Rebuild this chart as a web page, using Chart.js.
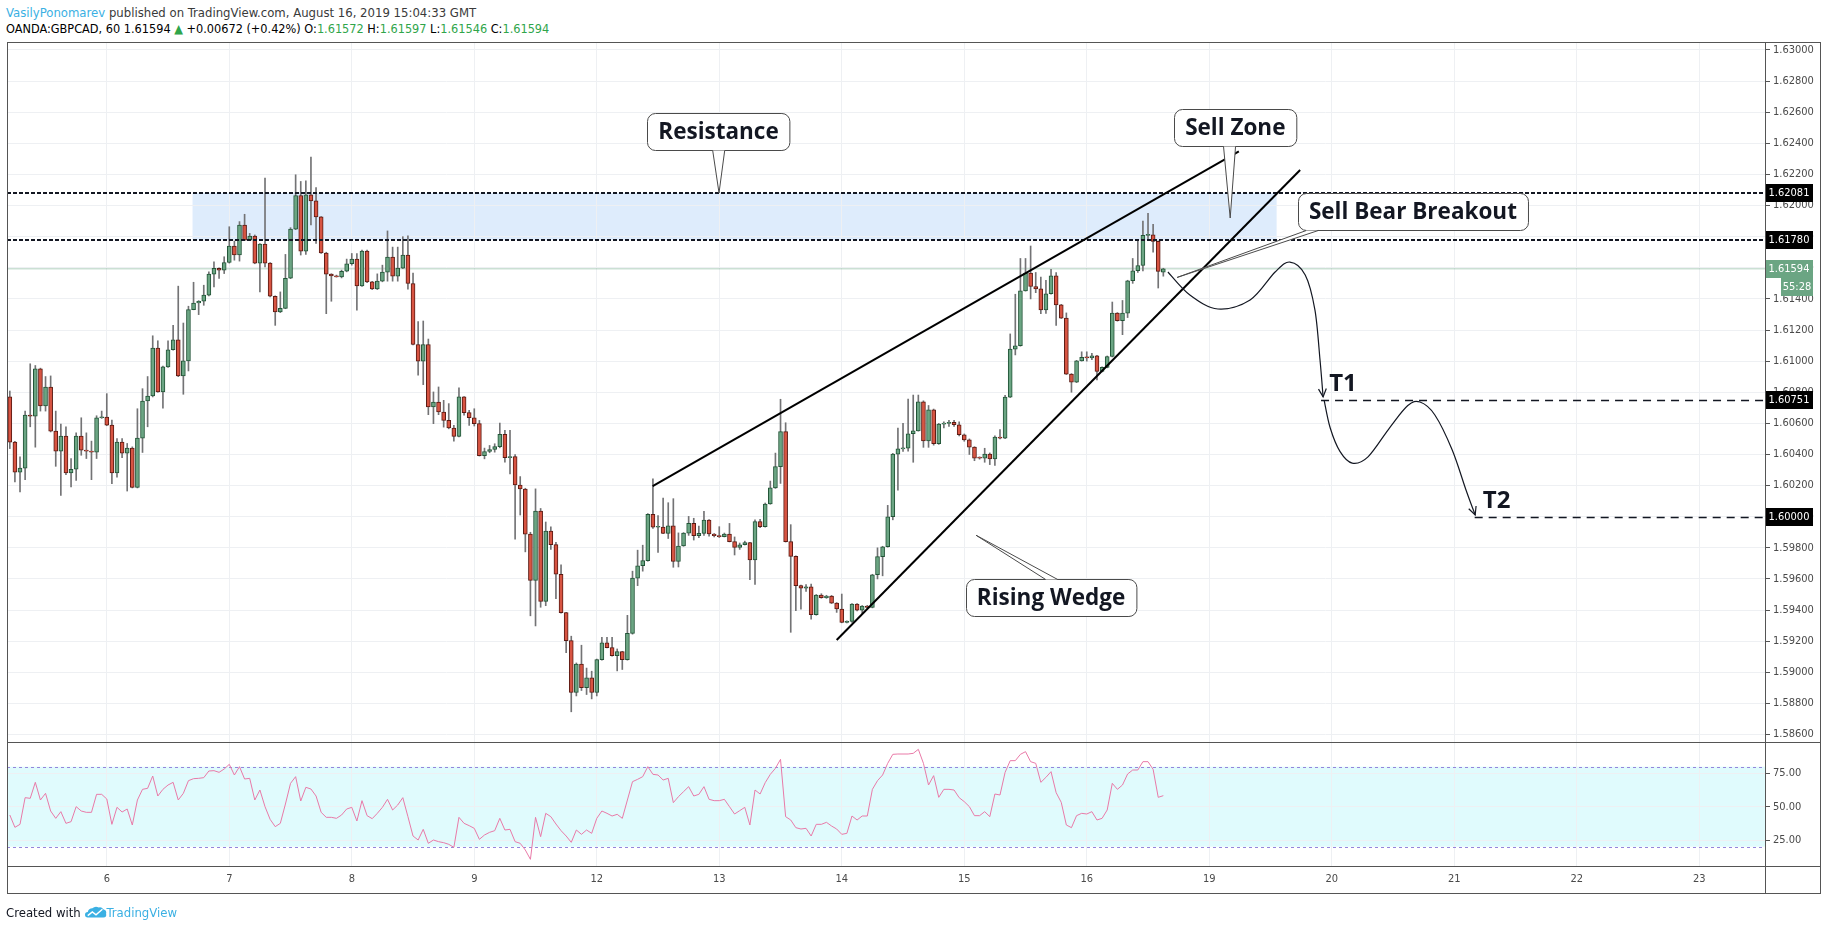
<!DOCTYPE html>
<html><head><meta charset="utf-8">
<script src="https://cdn.jsdelivr.net/npm/chart.js@4.4.1/dist/chart.umd.min.js"></script>
<style>
html,body{margin:0;padding:0;background:#fff;width:1828px;height:930px;overflow:hidden;position:relative;}
.txt{position:absolute;white-space:nowrap;font-family:'DejaVu Sans Condensed','Liberation Sans Narrow',sans-serif;font-size:13px;line-height:16px;color:#131722;}
.g{color:#2fa54a;}
.fr{position:absolute;background:#555;}
canvas{position:absolute;left:0;}
</style></head><body>
<div class="txt" style="left:6px;top:5px;color:#3a3a3a"><span style="color:#3bb0e3">VasilyPonomarev</span> published on TradingView.com, August 16, 2019 15:04:33 GMT</div>
<div class="txt" style="left:6px;top:21px;font-size:12.6px;color:#000">OANDA:GBPCAD, 60 1.61594 <span class="g">&#9650;</span> +0.00672 (+0.42%) O:<span class="g">1.61572</span> H:<span class="g">1.61597</span> L:<span class="g">1.61546</span> C:<span class="g">1.61594</span></div>
<canvas id="rsi" width="1828" height="200" style="top:730px;width:1828px;height:200px"></canvas>
<canvas id="main" width="1828" height="754" style="top:0;width:1828px;height:754px"></canvas>
<div class="fr" style="left:7px;top:42px;width:1814px;height:1px"></div>
<div class="fr" style="left:7px;top:893px;width:1814px;height:1px"></div>
<div class="fr" style="left:7px;top:42px;width:1px;height:852px"></div>
<div class="fr" style="left:1820px;top:42px;width:1px;height:852px"></div>
<div class="fr" style="left:1765px;top:42px;width:1px;height:852px"></div>
<div class="fr" style="left:7px;top:742px;width:1814px;height:1px"></div>
<div class="fr" style="left:7px;top:866px;width:1814px;height:1px"></div>
<div class="txt" style="left:6px;top:905px">Created with <svg width="22" height="14" viewBox="0 0 24 14" style="vertical-align:-2px"><path d="M3 13 Q0 13 0 10 Q0 7 3 7 Q4 3 8 3 Q11 0 15 2 Q18 1 20 4 Q24 5 23 9 Q24 13 20 13 Z" fill="#3bb0e3"/><path d="M3 11 L8 7 L12 10 L19 4" stroke="#fff" stroke-width="1.6" fill="none"/></svg><span style="color:#3bb0e3">TradingView</span></div>
<script>
// ---------- DATA ----------
const firstHour = -19; // hour index of first candle (0 = day "6" 00:00)
const opens = [1.6077,1.60479,1.60286,1.60312,1.60654,1.60647,1.6095,1.60712,1.60834,1.6055,
1.60421,1.60518,1.60281,1.60305,1.60518,1.60428,1.60421,1.60415,1.60636,1.60641,
1.60589,1.60281,1.60479,1.60408,1.60441,1.60189,1.60505,1.60744,1.60776,1.61084,
1.60802,1.60963,1.61073,1.61137,1.60905,1.61002,1.61331,1.61374,1.61385,1.61424,
1.61559,1.61596,1.61585,1.61634,1.6174,1.61682,1.61875,1.61778,1.61804,1.6163,
1.61753,1.6163,1.61417,1.61316,1.61339,1.61533,1.61849,1.62065,1.61707,1.62069,
1.6203,1.61927,1.61695,1.61559,1.61548,1.61542,1.61578,1.61626,1.61656,1.61484,
1.61707,1.6151,1.61464,1.61514,1.61572,1.61669,1.61546,1.61598,1.61682,1.61499,
1.61107,1.61,1.61107,1.60705,1.60737,1.60673,1.60619,1.6057,1.60516,1.6077,
1.60669,1.60636,1.60598,1.60393,1.60419,1.60432,1.60451,1.60529,1.6038,1.60386,
1.60204,1.60178,1.59888,1.59591,1.60036,1.59456,1.59907,1.59821,1.5963,1.59383,
1.59204,1.5887,1.59053,1.58901,1.58965,1.5887,1.59081,1.59189,1.59159,1.59107,
1.59133,1.59081,1.5925,1.59605,1.59685,1.59718,1.60015,1.59932,1.59934,1.59893,
1.59942,1.59713,1.59812,1.59895,1.59957,1.59878,1.59893,1.59979,1.59889,1.59878,
1.59872,1.59889,1.5984,1.59803,1.5982,1.59833,1.59722,1.59968,1.59936,1.60082,
1.60185,1.60322,1.60547,1.5984,1.59745,1.59557,1.5954,1.5955,1.5937,1.59497,
1.59479,1.5949,1.59445,1.59407,1.59321,1.59327,1.59439,1.594,1.59426,1.59417,
1.59627,1.59743,1.59807,1.6,1.60402,1.60436,1.60441,1.60533,1.60552,1.60739,
1.60488,1.60687,1.60469,1.60595,1.606,1.60606,1.60591,1.60527,1.60494,1.60447,
1.60381,1.60377,1.60402,1.60372,1.60512,1.60505,1.60769,1.61077,1.61099,1.61452,
1.61566,1.6148,1.61465,1.6133,1.61433,1.61549,1.61362,1.61277,1.60917,1.60865,
1.61002,1.61024,1.61021,1.61034,1.60934,1.6096,1.6103,1.61309,1.6126,1.61309,
1.61517,1.61581,1.61615,1.61808,1.61812,1.6177,1.61572];
const highs = [1.60808,1.60485,1.60385,1.60679,1.60983,1.60972,1.60955,1.60901,1.60905,1.60679,
1.60595,1.60578,1.60374,1.60539,1.60636,1.60539,1.60486,1.60649,1.60679,1.60791,
1.60621,1.60503,1.60503,1.60471,1.60449,1.60694,1.60823,1.60901,1.61163,1.61131,
1.60968,1.61131,1.6123,1.61482,1.61245,1.61353,1.61507,1.61389,1.61488,1.61574,
1.61639,1.616,1.61671,1.61864,1.61772,1.61897,1.61944,1.61821,1.61811,1.61755,
1.62176,1.61634,1.6142,1.61445,1.61686,1.61858,1.62198,1.62155,1.62159,1.62312,
1.62116,1.6193,1.617,1.61562,1.61553,1.61585,1.61656,1.61692,1.61692,1.61714,
1.61714,1.61513,1.61561,1.61617,1.61837,1.61733,1.61733,1.618,1.61806,1.61566,
1.61254,1.61258,1.61142,1.60802,1.60834,1.60748,1.60727,1.60587,1.60828,1.60773,
1.60684,1.60694,1.60619,1.60441,1.60458,1.60469,1.60602,1.60555,1.60555,1.604,
1.60258,1.60183,1.599,1.60179,1.60053,1.59966,1.59935,1.59835,1.59691,1.59385,
1.59232,1.5906,1.59174,1.59027,1.59007,1.59085,1.59224,1.59224,1.59224,1.5915,
1.59135,1.59366,1.5965,1.59785,1.59817,1.6002,1.60243,1.60007,1.6012,1.6009,
1.60116,1.59896,1.59898,1.60002,1.5999,1.5994,1.60034,1.59982,1.59892,1.59936,
1.59895,1.59957,1.5987,1.59831,1.59843,1.59836,1.5998,1.59983,1.60088,1.60229,
1.60409,1.60755,1.60604,1.59949,1.59748,1.5956,1.59564,1.59567,1.595,1.59505,
1.59495,1.59494,1.59448,1.59503,1.5933,1.59442,1.59442,1.59429,1.5943,1.5963,
1.598,1.5981,1.60073,1.60407,1.6057,1.606,1.60756,1.60782,1.60782,1.60745,
1.60715,1.60692,1.606,1.6061,1.6062,1.6062,1.6061,1.60532,1.605,1.6045,
1.60385,1.6044,1.6041,1.6052,1.6056,1.6078,1.61175,1.6143,1.6166,1.6166,
1.6174,1.6157,1.6154,1.6152,1.6159,1.6157,1.61365,1.6131,1.6092,1.61005,
1.6106,1.6106,1.6105,1.61037,1.60963,1.61033,1.6138,1.61312,1.6139,1.6152,
1.6166,1.6178,1.619,1.6195,1.6188,1.61773,1.61597];
const lows = [1.60438,1.60223,1.60159,1.60238,1.60578,1.60447,1.60679,1.60679,1.60545,1.60324,
1.60137,1.60271,1.60191,1.60234,1.60395,1.60374,1.60238,1.60374,1.60632,1.60585,
1.60213,1.60254,1.6038,1.60165,1.60185,1.60185,1.60413,1.60578,1.6077,1.608,
1.60697,1.6096,1.6107,1.609,1.60787,1.60937,1.6133,1.61299,1.61359,1.61419,
1.61477,1.61531,1.61563,1.6163,1.61649,1.61643,1.61776,1.61776,1.61626,1.61445,
1.61606,1.61413,1.6123,1.61312,1.61337,1.6153,1.61845,1.61682,1.61686,1.61875,
1.61757,1.61692,1.61305,1.61385,1.6154,1.61535,1.61574,1.61617,1.61327,1.6148,
1.61505,1.6146,1.6146,1.6151,1.61514,1.61514,1.61514,1.61595,1.61462,1.61105,
1.6091,1.60849,1.60656,1.60598,1.60656,1.60576,1.60565,1.60486,1.60513,1.60652,
1.60587,1.60583,1.6039,1.60372,1.60411,1.60415,1.60443,1.6035,1.60275,1.59856,
1.60011,1.59774,1.59363,1.59298,1.59418,1.59428,1.5979,1.59473,1.5938,1.59126,
1.58746,1.58848,1.58883,1.58857,1.58829,1.58848,1.59078,1.59156,1.59104,1.59009,
1.59018,1.59078,1.59245,1.59557,1.5965,1.59714,1.59925,1.59771,1.59891,1.5986,
1.59675,1.59677,1.5981,1.5988,1.5985,1.59866,1.5988,1.59875,1.5987,1.59866,
1.5987,1.59838,1.59754,1.5979,1.59818,1.59595,1.59564,1.5993,1.59933,1.6008,
1.60182,1.60214,1.59837,1.59257,1.59396,1.59405,1.5952,1.59342,1.59367,1.59476,
1.59475,1.59442,1.59385,1.59318,1.59317,1.59321,1.59395,1.5938,1.59415,1.59414,
1.596,1.5962,1.59804,1.5998,1.6017,1.6042,1.60422,1.6035,1.6055,1.60446,
1.60446,1.6046,1.60465,1.6057,1.6058,1.6058,1.6052,1.60485,1.604,1.6036,
1.6037,1.6035,1.60335,1.6033,1.605,1.60502,1.60766,1.6104,1.61096,1.6145,
1.614,1.6144,1.61305,1.61307,1.6143,1.6123,1.61274,1.60914,1.608,1.60862,
1.61,1.61,1.6101,1.6088,1.6093,1.60957,1.61027,1.61257,1.6117,1.6128,
1.615,1.6157,1.6158,1.6178,1.617,1.6147,1.61546];
const closes = [1.60479,1.60286,1.60312,1.60654,1.60647,1.6095,1.60712,1.60834,1.6055,1.60421,
1.60518,1.60281,1.60305,1.60518,1.60428,1.60421,1.60415,1.60636,1.60641,1.60589,
1.60281,1.60479,1.60408,1.60441,1.60189,1.60505,1.60744,1.60776,1.61084,1.60802,
1.60963,1.61073,1.61137,1.60905,1.61002,1.61331,1.61374,1.61385,1.61424,1.61559,
1.61596,1.61585,1.61634,1.6174,1.61682,1.61875,1.61778,1.61804,1.6163,1.61753,
1.6163,1.61417,1.61316,1.61339,1.61533,1.61849,1.62065,1.61707,1.62069,1.6203,
1.61927,1.61695,1.61559,1.61548,1.61542,1.61578,1.61626,1.61656,1.61484,1.61707,
1.6151,1.61464,1.61514,1.61572,1.61669,1.61546,1.61598,1.61682,1.61499,1.61107,
1.61,1.61107,1.60705,1.60737,1.60673,1.60619,1.6057,1.60516,1.6077,1.60669,
1.60636,1.60598,1.60393,1.60419,1.60432,1.60451,1.60529,1.6038,1.60386,1.60204,
1.60178,1.59888,1.59591,1.60036,1.59456,1.59907,1.59821,1.5963,1.59383,1.59204,
1.5887,1.59053,1.58901,1.58965,1.5887,1.59081,1.59189,1.59159,1.59107,1.59133,
1.59081,1.5925,1.59605,1.59685,1.59718,1.60015,1.59932,1.59934,1.59893,1.59942,
1.59713,1.59812,1.59895,1.59957,1.59878,1.59893,1.59979,1.59889,1.59878,1.59872,
1.59889,1.5984,1.59803,1.5982,1.59833,1.59722,1.59968,1.59936,1.60082,1.60185,
1.60322,1.60547,1.5984,1.59745,1.59557,1.5954,1.5955,1.5937,1.59497,1.59479,
1.5949,1.59445,1.59407,1.59321,1.59327,1.59439,1.594,1.59426,1.59417,1.59627,
1.59743,1.59807,1.6,1.60402,1.60436,1.60441,1.60533,1.60552,1.60739,1.60488,
1.60687,1.60469,1.60595,1.606,1.60606,1.60591,1.60527,1.60494,1.60447,1.60377,
1.60377,1.60402,1.60372,1.60512,1.60505,1.60769,1.61077,1.61099,1.61452,1.61566,
1.6148,1.61465,1.6133,1.61433,1.61549,1.61362,1.61277,1.60917,1.60865,1.61002,
1.61024,1.61021,1.61034,1.60934,1.6096,1.6103,1.61309,1.6126,1.61309,1.61517,
1.61581,1.61615,1.61808,1.61812,1.6177,1.61577,1.61594];
const rsiValues = [43.75,34.5,36.75,56.75,56.25,68.25,55,60,46.75,41.25,
46.25,37.5,38.75,50,46.75,45.75,45.75,59.25,59.25,55.75,
36.75,49.5,46,48.25,36.25,55,63,63.75,73,58,
63,66.25,68.25,55,60,69.5,71,71.25,71.75,76.75,
77,75.75,78.25,81.75,73.75,80,70.75,71.25,55,62.5,
50,40.5,35,37.5,52,67.5,72.5,54.25,64.5,63.25,
58,45.75,42,42,41.25,43.75,48.25,49.5,39.25,54.5,
43.25,41,45,49.5,55.5,47.5,51.25,56.75,42.5,28,
25,33,22.5,25,23.75,23,21.75,19.5,42,37.5,
35.75,33.75,25.5,28.75,30.75,32,41.25,32.5,33,23.75,
22.5,17.5,10.5,42,27.5,45,42.5,37,32,28,
23.25,32.5,29.25,32.5,30,41.25,46.75,45,43,44.25,
41.25,55,68.75,70.5,72.5,80,74.25,73.75,70,71.25,
53,57.5,61.25,65,58,59.25,65,55.5,54.5,54.5,
55.5,50,44.5,47,49.5,36.25,62.5,59.5,68,74.25,
78.75,85.5,42.5,40,34.25,33.25,33.75,28,36.75,36.75,
38.25,35.5,33.25,29.25,30,43,40,43,43,63,
69.5,73.75,82.5,89.25,89.5,89.5,89.5,90,93,82.5,
66.25,73.25,57,63,63,62.5,56.75,53.75,50,43.25,
43.25,46.25,42.5,59.5,58.75,75.75,84.5,84.5,89.25,91.25,
83.75,82.5,68.25,72,76.25,60.5,53.25,36.25,34.25,43.25,
45,44.5,46.25,40,41.25,47.5,67.5,63,66.25,74.5,
77.5,77.5,83.75,83.75,78,57,58.25];
const dayTickHours = [0,24,48,72,96,120,144,168,192,216,240,264,288,312];
const dayTickLabels = ['6','7','8','9','12','13','14','15','16','19','20','21','22','23'];
const priceTicks = [1.586,1.588,1.59,1.592,1.594,1.596,1.598,1.6,1.602,1.604,1.606,1.608,1.61,1.612,1.614,1.616,1.618,1.62,1.622,1.624,1.626,1.628,1.63];
const rsiTicks = [25,50,75];
const rsiBands = [20,80];
const resistanceLevels = [1.62081, 1.6178];
const lastPrice = 1.61594;
const targetLevels = [1.60751, 1.6];
const targetNames = ['T1','T2'];

[highs,lows,closes,rsiValues].forEach(a=>{ if(a.length!==opens.length) throw new Error('length mismatch '+a.length+' vs '+opens.length); });

// ---------- DRAWING GEOMETRY (hour index, price) ----------
const geo = {
  xMin: -19.55, xMax: 324.88,
  yMin: 1.585519, yMax: 1.630514,
  rsiMin: 5.5, rsiMax: 98.5,
  zone: {x0: 16.8, x1: 229.2},
  wedge: [[[106.95,1.60197],[221.8,1.62348]], [[143.0,1.59208],[233.8,1.62229]]],
  targetStart: [237.9, 268.0],
  targetText: [[239.5, 1.60852],[269.6, 1.60101]],
  waves: [
    [[207.9,1.61573],[212.2,1.61425],[217.7,1.61335],[224.0,1.61393],[228.9,1.61573],[231.8,1.61637],[234.8,1.61554],[236.7,1.61329],[237.7,1.61007],[238.3,1.6077]],
    [[238.5,1.6075],[239.7,1.6057],[241.6,1.6042],[244.0,1.60345],[247.1,1.60385],[251.4,1.60575],[254.9,1.60715],[257.3,1.60737],[260.2,1.60654],[263.6,1.60429],[266.3,1.60172],[268.1,1.60011]]
  ],
  callouts: [
    {text:'Resistance', cx:119.85, cp:1.62476, tx:119.95, tp:1.62081, side:'bottom', f:0.5},
    {text:'Sell Zone', cx:221.1, cp:1.62505, tx:220.1, tp:1.6192, side:'bottom', f:0.45},
    {text:'Sell Bear Breakout', cx:255.9, cp:1.61959, tx:209.7, tp:1.61538, side:'bottom', f:0.06},
    {text:'Rising Wedge', cx:185.0, cp:1.59481, tx:170.3, tp:1.59881, side:'top', f:0.5}
  ]
};

const AX_FAMILY = "'DejaVu Sans Condensed','Liberation Sans Narrow',sans-serif";
const AX_FONT = {family:AX_FAMILY, size:11};
const LABEL_FONT = "bold 22.5px 'Open Sans', sans-serif";
const GRID = '#eef0f3';
const hours = opens.map((_,k)=>firstHour+k);
const isUp = k => closes[k] >= opens[k];

function smooth(ctx, pts){
  ctx.moveTo(pts[0][0], pts[0][1]);
  for(let i=0;i<pts.length-1;i++){
    const p0=pts[i-1]||pts[i], p1=pts[i], p2=pts[i+1], p3=pts[i+2]||pts[i+1];
    ctx.bezierCurveTo(p1[0]+(p2[0]-p0[0])/6, p1[1]+(p2[1]-p0[1])/6, p2[0]-(p3[0]-p1[0])/6, p2[1]-(p3[1]-p1[1])/6, p2[0], p2[1]);
  }
}
function rr(ctx,l,t,w,h,r){
  ctx.beginPath();
  ctx.moveTo(l+r,t); ctx.lineTo(l+w-r,t); ctx.arcTo(l+w,t,l+w,t+r,r);
  ctx.lineTo(l+w,t+h-r); ctx.arcTo(l+w,t+h,l+w-r,t+h,r);
  ctx.lineTo(l+r,t+h); ctx.arcTo(l,t+h,l,t+h-r,r);
  ctx.lineTo(l,t+r); ctx.arcTo(l,t,l+r,t,r); ctx.closePath();
}

const mainDecor = {
  id:'mainDecor',
  beforeDraw(chart){
    const {ctx, scales:{x,y}} = chart;
    ctx.save();
    ctx.fillStyle = '#deecfc';
    const x0=x.getPixelForValue(geo.zone.x0), x1=x.getPixelForValue(geo.zone.x1);
    const y0=y.getPixelForValue(resistanceLevels[0]), y1=y.getPixelForValue(resistanceLevels[1]);
    ctx.fillRect(x0,y0,x1-x0,y1-y0);
    ctx.restore();
  },
  beforeDatasetsDraw(chart){
    const {ctx, chartArea:a, scales:{y}} = chart;
    ctx.save();
    ctx.strokeStyle = 'rgba(107,165,131,0.35)';
    ctx.lineWidth = 1.5;
    const py = y.getPixelForValue(lastPrice);
    ctx.beginPath(); ctx.moveTo(a.left,py); ctx.lineTo(a.right,py); ctx.stroke();
    ctx.restore();
  },
  afterDatasetsDraw(chart){
    const {ctx, chartArea:a, scales:{x,y}} = chart;
    const X=v=>x.getPixelForValue(v), Y=v=>y.getPixelForValue(v);
    ctx.save();
    ctx.strokeStyle='#131722'; ctx.lineWidth=2; ctx.setLineDash([4,2]);
    resistanceLevels.forEach(p=>{ const py=Math.round(Y(p)); ctx.beginPath(); ctx.moveTo(a.left,py); ctx.lineTo(a.right,py); ctx.stroke(); });
    ctx.lineWidth=1.5; ctx.setLineDash([8,6]);
    targetLevels.forEach((p,i)=>{ const py=Math.round(Y(p))+0.5; ctx.beginPath(); ctx.moveTo(X(geo.targetStart[i]),py); ctx.lineTo(a.right,py); ctx.stroke(); });
    ctx.setLineDash([]);
    ctx.lineWidth=2; ctx.strokeStyle='#000';
    geo.wedge.forEach(seg=>{ ctx.beginPath(); ctx.moveTo(X(seg[0][0]),Y(seg[0][1])); ctx.lineTo(X(seg[1][0]),Y(seg[1][1])); ctx.stroke(); });
    ctx.lineWidth=1.2; ctx.strokeStyle='#131722';
    geo.waves.forEach(w=>{
      const pts=w.map(p=>[X(p[0]),Y(p[1])]);
      ctx.beginPath(); smooth(ctx,pts); ctx.stroke();
      const e=pts[pts.length-1], s=pts[pts.length-2];
      const ang=Math.atan2(e[1]-s[1], e[0]-s[0]);
      ctx.beginPath();
      ctx.moveTo(e[0]-9*Math.cos(ang-0.45), e[1]-9*Math.sin(ang-0.45));
      ctx.lineTo(e[0],e[1]);
      ctx.lineTo(e[0]-9*Math.cos(ang+0.45), e[1]-9*Math.sin(ang+0.45));
      ctx.stroke();
    });
    ctx.fillStyle='#131722'; ctx.font="bold 24px 'Open Sans', sans-serif"; ctx.textAlign='left'; ctx.textBaseline='middle';
    targetNames.forEach((n,i)=>ctx.fillText(n, X(geo.targetText[i][0]), Y(geo.targetText[i][1])));
    geo.callouts.forEach(c=>{
      ctx.font=LABEL_FONT;
      const w=ctx.measureText(c.text).width+22, h=37;
      const cx=X(c.cx), cy=Y(c.cp);
      const l=Math.round(cx-w/2)+0.5, t=Math.round(cy-h/2)+0.5;
      const tx=X(c.tx), ty=Y(c.tp);
      const by = c.side==='bottom' ? t+h : t;
      const bx = l + Math.max(12, Math.min(w-12, w*c.f));
      ctx.lineWidth=1; ctx.strokeStyle='#4a4a4a'; ctx.fillStyle='#fff';
      rr(ctx,l,t,w,h,8); ctx.fill(); ctx.stroke();
      ctx.beginPath(); ctx.moveTo(bx-6,by); ctx.lineTo(tx,ty); ctx.lineTo(bx+6,by); ctx.closePath(); ctx.fill();
      ctx.beginPath(); ctx.moveTo(bx-6,by); ctx.lineTo(tx,ty); ctx.lineTo(bx+6,by); ctx.stroke();
      ctx.fillStyle='#131722'; ctx.textAlign='center'; ctx.textBaseline='middle';
      ctx.fillText(c.text, cx, t+h/2+1);
    });
    ctx.restore();
  },
  afterDraw(chart){
    const {ctx, chartArea:a, scales:{y}} = chart;
    const box=(p,txt,bg,dx,w,dy)=>{
      const py=Math.round(y.getPixelForValue(p))+(dy||0);
      ctx.fillStyle=bg; ctx.fillRect(a.right+dx, py-9, w, 18);
      ctx.fillStyle='#fff'; ctx.font="11px "+AX_FAMILY;
      ctx.textAlign='center'; ctx.textBaseline='middle'; ctx.fillText(txt, a.right+dx+w/2, py+0.5);
    };
    ctx.save();
    resistanceLevels.forEach(p=>box(p,p.toFixed(5),'#000',0,48));
    targetLevels.forEach(p=>box(p,p.toFixed(5),'#000',0,48));
    box(lastPrice,lastPrice.toFixed(5),'#6ba583',0,48);
    box(lastPrice,'55:28','#6ba583',16,32,18);
    ctx.restore();
  }
};

const xBase = {
  type:'linear', min:geo.xMin, max:geo.xMax, offset:false,
  afterBuildTicks: s=>{ s.ticks = dayTickHours.map(v=>({value:v})); },
  grid:{color:GRID, drawTicks:false, offset:false},
  border:{display:false}
};

new Chart(document.getElementById('main'), {
  type:'bar',
  data:{datasets:[
    {label:'wick', data:hours.map((h,k)=>({x:h, y:[lows[k],highs[k]]})), backgroundColor:'#737375', borderWidth:0, barThickness:1, grouped:false, order:2, minBarLength:1},
    {label:'body', data:hours.map((h,k)=>({x:h, y:[opens[k],closes[k]]})),
      backgroundColor:ctx=>isUp(ctx.dataIndex)?'#6ba583':'#d75442',
      borderColor:ctx=>isUp(ctx.dataIndex)?'#225437':'#5b1a13',
      borderWidth:1, borderSkipped:false, barThickness:4, grouped:false, order:1, minBarLength:1}
  ]},
  options:{
    responsive:false, animation:false, events:[],
    layout:{padding:{left:7, top:42, right:7, bottom:12}},
    plugins:{legend:{display:false}, tooltip:{enabled:false}},
    scales:{
      x: Object.assign({}, xBase, {ticks:{display:false}, afterFit:s=>{s.height=0;}}),
      y:{type:'linear', position:'right', min:geo.yMin, max:geo.yMax, beginAtZero:false,
        afterBuildTicks: s=>{ s.ticks = priceTicks.map(v=>({value:v})); },
        afterFit: s=>{ s.width=56; },
        ticks:{callback:v=>Number(v).toFixed(5), font:AX_FONT, color:'#4a4a4a', padding:3, autoSkip:false},
        grid:{color:GRID, tickColor:'#555', tickLength:5},
        border:{display:false}}
    }
  },
  plugins:[mainDecor]
});

const rsiDecor = {
  id:'rsiDecor',
  beforeDraw(chart){
    const {ctx, chartArea:a, scales:{y}} = chart;
    ctx.save(); ctx.fillStyle='#e0fbfd';
    const y0=y.getPixelForValue(rsiBands[1]), y1=y.getPixelForValue(rsiBands[0]);
    ctx.fillRect(a.left,y0,a.right-a.left,y1-y0); ctx.restore();
  },
  beforeDatasetsDraw(chart){
    const {ctx, chartArea:a, scales:{y}} = chart;
    ctx.save(); ctx.strokeStyle='#9585dc'; ctx.lineWidth=1; ctx.setLineDash([3,3]);
    rsiBands.forEach(v=>{ const py=Math.round(y.getPixelForValue(v))+0.5; ctx.beginPath(); ctx.moveTo(a.left,py); ctx.lineTo(a.right,py); ctx.stroke(); });
    ctx.restore();
  }
};

new Chart(document.getElementById('rsi'), {
  type:'line',
  data:{datasets:[{data:hours.map((h,k)=>({x:h, y:rsiValues[k]})), borderColor:'#e97aa8', borderWidth:1, pointRadius:0, tension:0, fill:false}]},
  options:{
    responsive:false, animation:false, events:[],
    layout:{padding:{left:7, top:12, right:7, bottom:37}},
    plugins:{legend:{display:false}, tooltip:{enabled:false}},
    scales:{
      x: Object.assign({}, xBase, {
        ticks:{display:true, autoSkip:false, maxRotation:0, padding:7, font:AX_FONT, color:'#4a4a4a',
          callback:v=>{ const i=dayTickHours.indexOf(v); return i>=0?dayTickLabels[i]:''; }},
        afterFit:s=>{s.height=27;}}),
      y:{type:'linear', position:'right', min:geo.rsiMin, max:geo.rsiMax,
        afterBuildTicks: s=>{ s.ticks = rsiTicks.map(v=>({value:v})); },
        afterFit: s=>{ s.width=56; },
        ticks:{callback:v=>Number(v).toFixed(2), font:AX_FONT, color:'#4a4a4a', padding:3},
        grid:{color:GRID, tickColor:'#555', tickLength:5},
        border:{display:false}}
    }
  },
  plugins:[rsiDecor]
});
</script>
</body></html>
